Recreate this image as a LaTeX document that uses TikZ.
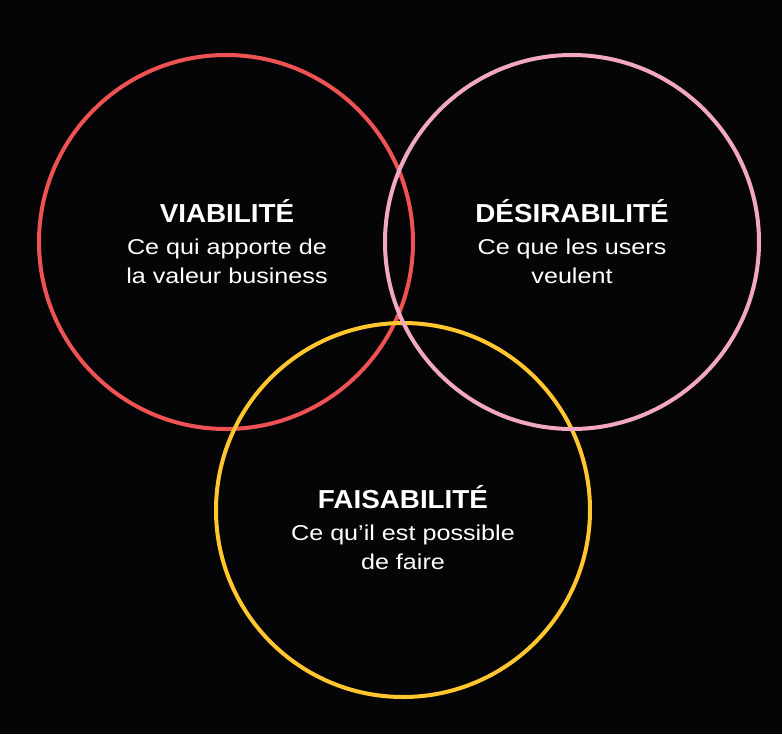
\documentclass[tikz,border=0pt]{standalone}
\usepackage{fontspec}
\setmainfont{Liberation Sans}
\newfontfamily\subfont[FakeStretch=1.17]{Liberation Sans}
\newfontfamily\ttlfont[FakeStretch=1.07]{Liberation Sans Bold}
\definecolor{bg}{HTML}{050507}
\definecolor{cred}{HTML}{EE5252}
\definecolor{cpink}{HTML}{F2A7C3}
\definecolor{cyellow}{HTML}{FFC62E}
\begin{document}
\begin{tikzpicture}[x=1pt,y=-1pt,
  ring/.style={draw=#1,line width=4pt,circle,minimum size=374pt,inner sep=0pt},
  ttl/.style={text=white,font=\ttlfont\fontsize{26}{30}\selectfont,anchor=base,inner sep=0pt},
  sub/.style={text=white,font=\subfont\fontsize{21.5}{29.5}\selectfont,anchor=base,inner sep=0pt}]
\fill[bg] (0,0) rectangle (782,734);
\useasboundingbox (0,0) rectangle (782,734);
\node[ring=cred] (red) at (226,242) {};
\node[ring=cyellow] (yellow) at (403,510) {};
\node[ring=cpink] (pink) at (572,242) {};
\node[ttl] (t1) at (227,222) {VIABILITÉ};
\node[sub] (s1a) at (227,254) {Ce qui apporte de};
\node[sub] (s1b) at (227,283) {la valeur business};
\node[ttl] (t2) at (572,222) {DÉSIRABILITÉ};
\node[sub] (s2a) at (572,254) {Ce que les users};
\node[sub] (s2b) at (572,283) {veulent};
\node[ttl] (t3) at (403,508) {FAISABILITÉ};
\node[sub] (s3a) at (403,540) {Ce qu’il est possible};
\node[sub] (s3b) at (403,569) {de faire};
\end{tikzpicture}
\end{document}
